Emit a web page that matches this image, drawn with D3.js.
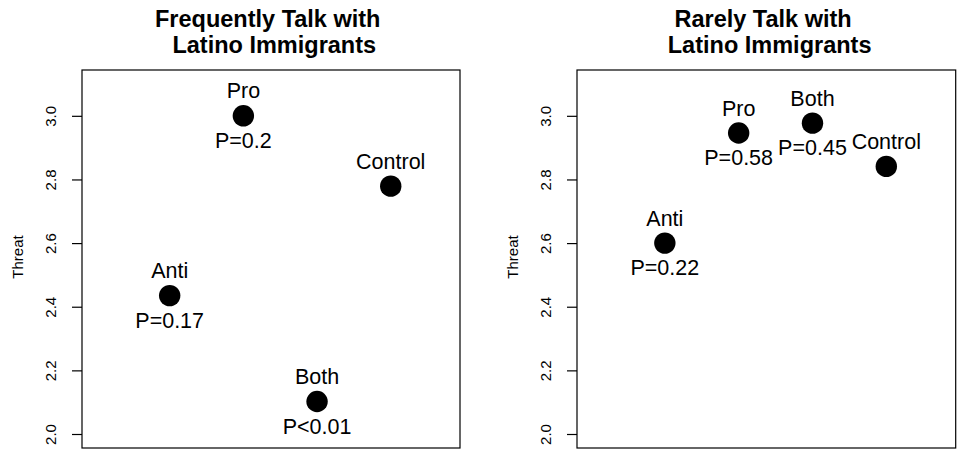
<!DOCTYPE html>
<html>
<head>
<meta charset="utf-8">
<script src="https://cdn.jsdelivr.net/npm/d3@7"></script>
<style>
  html, body { margin: 0; padding: 0; background: #fff; }
  svg { display: block; font-family: "Liberation Sans", Arial, sans-serif; }
</style>
</head>
<body>
<svg id="chart" width="961" height="452"></svg>
<script>
// ---- data ----
const groups = ["Anti", "Pro", "Both", "Control"];
const groupX = [1, 2, 3, 4];
const freqThreat = [2.435, 3.0, 2.102, 2.779];
const freqPLabels = ["P=0.17", "P=0.2", "P<0.01", ""];
const rareThreat = [2.600, 2.946, 2.977, 2.841];
const rarePLabels = ["P=0.22", "P=0.58", "P=0.45", ""];
const yTicks = [2.0, 2.2, 2.4, 2.6, 2.8, 3.0];
const titles = [["Frequently Talk with ", " Latino Immigrants"], ["Rarely Talk with ", " Latino Immigrants"]];
const yLabel = "Threat";

const panels = [
  { left: 82, right: 460, values: freqThreat, plabels: freqPLabels, title: titles[0] },
  { left: 577, right: 955.7, values: rareThreat, plabels: rarePLabels, title: titles[1] }
];

const svg = d3.select("#chart");
const plotTop = 70, plotBottom = 448;
// R-style 4% expansion of xlim c(0,4.75) and ylim c(2,3.1)
const xlim = [0, 4.75], ylim = [2, 3.1];
const ex = (xlim[1] - xlim[0]) * 0.04, ey = (ylim[1] - ylim[0]) * 0.04;

panels.forEach(p => {
  const x = d3.scaleLinear().domain([xlim[0] - ex, xlim[1] + ex]).range([p.left, p.right]);
  const y = d3.scaleLinear().domain([ylim[0] - ey, ylim[1] + ey]).range([plotBottom, plotTop]);
  const g = svg.append("g");
  const cx = (p.left + p.right) / 2;

  // title
  const t = g.append("text").attr("text-anchor", "middle")
    .attr("font-weight", "bold").attr("font-size", 23.5).attr("fill", "#000")
    .style("white-space", "pre");
  t.append("tspan").attr("x", cx).attr("y", 26.7).text(p.title[0]);
  t.append("tspan").attr("x", cx).attr("y", 53.3).text(p.title[1]);

  // box
  g.append("rect").attr("x", p.left).attr("y", plotTop)
    .attr("width", p.right - p.left).attr("height", plotBottom - plotTop)
    .attr("fill", "none").attr("stroke", "#000").attr("stroke-width", 1.2);

  // y axis
  const ax = g.append("g").attr("transform", `translate(${p.left},0)`)
    .call(d3.axisLeft(y).tickValues(yTicks).tickSize(10).tickSizeOuter(0).tickFormat(d3.format(".1f")));
  ax.attr("font-size", 15).attr("font-family", "Liberation Sans, Arial, sans-serif");
  ax.select(".domain").remove();
  ax.selectAll(".tick line").attr("stroke", "#000").attr("stroke-width", 1.2);
  ax.selectAll(".tick text")
    .attr("x", null).attr("dy", null)
    .attr("transform", "translate(-26,0) rotate(-90)")
    .attr("text-anchor", "middle")
    .attr("fill", "#000");

  // y label
  g.append("text")
    .attr("transform", `translate(${p.left - 58.7},${(plotTop + plotBottom) / 2 - 2}) rotate(-90)`)
    .attr("text-anchor", "middle").attr("font-size", 15).attr("fill", "#000")
    .text(yLabel);

  // points
  groups.forEach((grp, i) => {
    const px = x(groupX[i]), py = y(p.values[i]);
    g.append("circle").attr("cx", px).attr("cy", py).attr("r", 10.7).attr("fill", "#000");
    g.append("text").attr("x", px).attr("y", py - 17.5).attr("text-anchor", "middle")
      .attr("font-size", 21.5).attr("fill", "#000").text(grp);
    if (p.plabels[i]) {
      g.append("text").attr("x", px).attr("y", py + 32).attr("text-anchor", "middle")
        .attr("font-size", 21.5).attr("fill", "#000").text(p.plabels[i]);
    }
  });
});
</script>
</body>
</html>
